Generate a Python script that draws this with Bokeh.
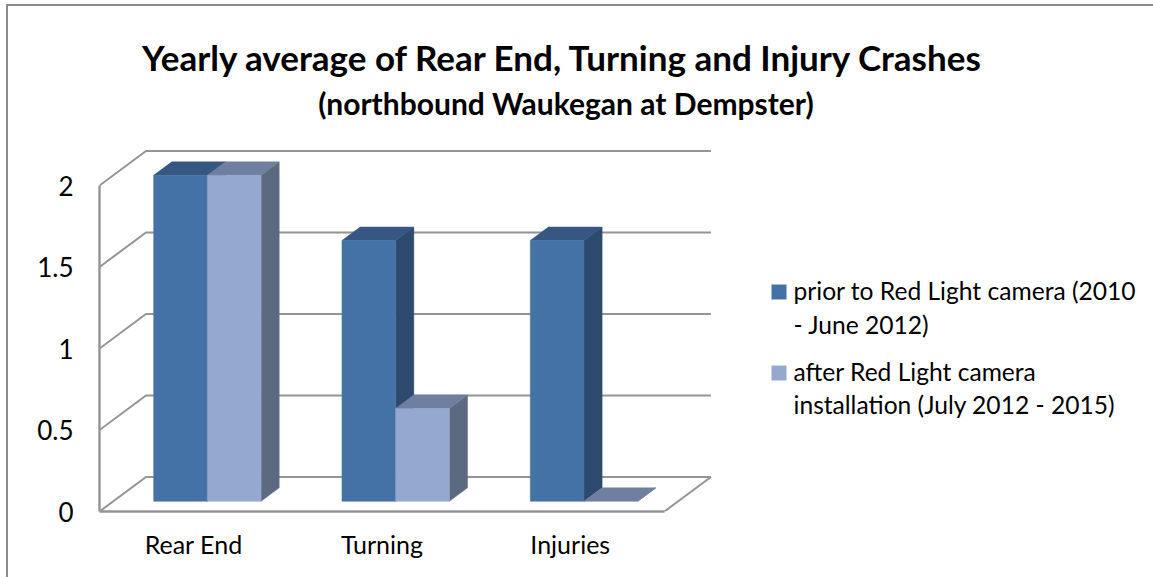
from bokeh.plotting import figure
from bokeh.models import Range1d, Label, LinearAxis, FixedTicker
from bokeh.embed import file_html
from bokeh.resources import INLINE

categories = ["Rear End", "Turning", "Injuries"]
prior = [2.0, 1.6, 1.6]
after = [2.0, 0.57, 0.0]
y_ticks = [0, 0.5, 1, 1.5, 2]
y_tick_labels = {0: "0", 0.5: "0.5", 1: "1", 1.5: "1.5", 2: "2"}
title_main = "Yearly average of Rear End, Turning and Injury Crashes"
title_sub = "(northbound Waukegan at Dempster)"
legend_prior = ["prior to Red Light camera (2010", "- June 2012)"]
legend_after = ["after Red Light camera", "installation (July 2012 - 2015)"]

# layout (page pixels)
W, H = 1153, 577
X0, Y0 = 99, 511          # axes origin on the page
PX_CAT, PX_VAL = 188.3, 163.0
DEPTH_X, DEPTH_Y = 46.5 / PX_CAT, 34.5 / PX_VAL   # oblique offset of the back wall
BAR_W = 53.7 / PX_CAT
BAR_D0, BAR_D1 = 0.295, 0.685   # bar front/back, as fraction of depth
FONT = "Lato"
GRID = "#949494"
BORDER = "#8b8b8b"

DARK = dict(front="#4472a6", top="#355781", side="#2d4a6e")
LIGHT = dict(front="#95a9d0", top="#6f7f9f", side="#5c6a81")

p = figure(width=W, height=H, output_backend="svg", toolbar_location=None,
           x_range=Range1d(0, (W - X0) / PX_CAT), y_range=Range1d(0, Y0 / PX_VAL),
           x_axis_type=None, y_axis_type=None,
           min_border_left=X0, min_border_right=0, min_border_top=0, min_border_bottom=H - Y0)
# chart-area border (only its left and top edges are in view) sits behind a transparent canvas
p.styles = {
    "position": "absolute", "left": "0px", "top": "0px",
    "background": (f"linear-gradient({BORDER},{BORDER}) 6px 4px/2px 573px no-repeat, "
                   f"linear-gradient({BORDER},{BORDER}) 6px 4px/1147px 2px no-repeat, white"),
}
p.outline_line_color = None
p.background_fill_color = None
p.border_fill_color = None


def dx(px):
    return (px - X0) / PX_CAT


def dy(py):
    return (Y0 - py) / PX_VAL


# axes
yax = LinearAxis(ticker=FixedTicker(ticks=y_ticks), major_label_overrides=y_tick_labels,
                 bounds=(0, 2), axis_line_color=GRID, axis_line_width=2.4,
                 major_tick_line_color=None, minor_tick_line_color=None,
                 major_label_standoff=20, major_label_text_font=FONT,
                 major_label_text_font_size="26px", major_label_text_color="black")
p.add_layout(yax, "left")
xpos = [i + 0.5 for i in range(len(categories))]
xax = LinearAxis(ticker=FixedTicker(ticks=xpos),
                 major_label_overrides={x: c for x, c in zip(xpos, categories)},
                 bounds=(0, len(categories)), axis_line_color=GRID, axis_line_width=2.4,
                 major_tick_line_color=None, minor_tick_line_color=None,
                 major_label_standoff=11, major_label_text_font=FONT,
                 major_label_text_font_size="25px", major_label_text_color="black")
p.add_layout(xax, "below")

# back wall grid + side wall diagonals + floor
n = len(categories)
for v in y_ticks:
    p.line([0, DEPTH_X, n + DEPTH_X], [v, v + DEPTH_Y, v + DEPTH_Y], line_color=GRID, line_width=2)
p.line([n, n + DEPTH_X], [0, DEPTH_Y], line_color=GRID, line_width=2)


def bar(x_left, v, c):
    x = x_left + BAR_D0 * DEPTH_X
    y0 = BAR_D0 * DEPTH_Y
    ox = (BAR_D1 - BAR_D0) * DEPTH_X
    oy = (BAR_D1 - BAR_D0) * DEPTH_Y
    xr = x + BAR_W
    top = y0 + v
    p.patch([xr, xr + ox, xr + ox, xr], [y0, y0 + oy, top + oy, top], color=c["side"], line_width=0.5)
    p.patch([x, x + ox, xr + ox, xr], [top, top + oy, top + oy, top], color=c["top"], line_width=0.5)
    if v > 0:
        p.quad(left=x, right=xr, bottom=y0, top=top, fill_color=c["front"], line_color=c["front"], line_width=0.5)


for i in range(n):
    start = i + 0.5 - BAR_W
    bar(start, prior[i], DARK)
    bar(start + BAR_W, after[i], LIGHT)


def text(px, py, s, size, style="normal", align="left"):
    p.add_layout(Label(x=dx(px), y=dy(py), text=s, text_font=FONT, text_font_size=size,
                       text_font_style=style, text_color="black", text_align=align,
                       text_baseline="middle"))


text(563, 56.5, title_main, "35px", "bold", "center")
text(565.5, 102, title_sub, "30px", "bold", "center")
for (line, ypx) in zip(legend_prior + legend_after, [290, 324, 371, 404]):
    text(793, ypx, line, "24.6px")
p.quad(left=dx(771), right=dx(786), bottom=dy(299), top=dy(284), color=DARK["front"], line_width=0)
p.quad(left=dx(771), right=dx(786), bottom=dy(380), top=dy(365), color=LIGHT["front"], line_width=0)

open("out.html", "w").write(file_html(p, INLINE))
